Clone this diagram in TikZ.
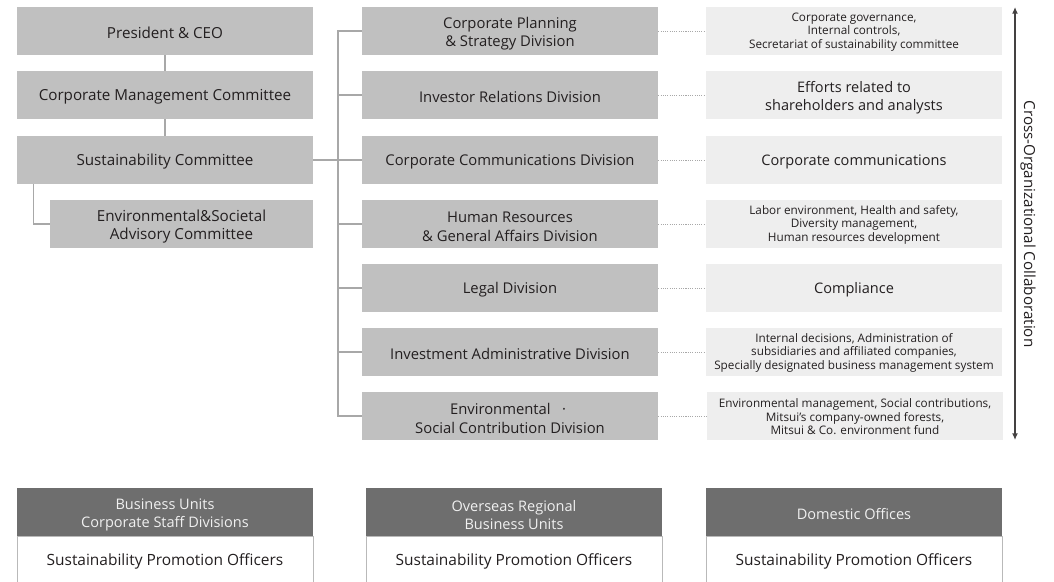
\documentclass[tikz,border=0pt]{standalone}
\usepackage{fontspec}
\setmainfont{Open Sans}
\usetikzlibrary{arrows.meta}
\definecolor{midbox}{HTML}{C0C0C0}
\definecolor{lightbox}{HTML}{EEEEEE}
\definecolor{darkhead}{HTML}{6E6E6E}
\definecolor{conn}{HTML}{A8A8A8}
\definecolor{txt}{HTML}{231F20}
\newcommand\dropA{\rule{0pt}{12.3pt}}
\newcommand\dropB{\rule{0pt}{8.1pt}}
\begin{document}
\begin{tikzpicture}[x=0.75pt,y=-0.75pt,
  oneline/.style={execute at begin node={\rule{0pt}{1.02em}}},
  lbox/.style={fill=midbox, minimum width=222pt, minimum height=36pt, inner sep=0pt, align=center, text=txt, font=\fontsize{11.4}{14}\selectfont},
  mbox/.style={fill=midbox, minimum width=222pt, minimum height=36pt, inner sep=0pt, align=center, text=txt, font=\fontsize{11.1}{14}\selectfont},
  rbox/.style={fill=lightbox, minimum width=222pt, minimum height=36pt, inner sep=0pt, align=center, text=txt, font=\fontsize{10.9}{14}\selectfont},
  rsmall/.style={rbox, font=\fontsize{8.8}{10.2}\selectfont},
  headbox/.style={fill=darkhead, minimum width=222pt, minimum height=36pt, inner sep=0pt, align=center, text=white!94!black, font=\fontsize{10.9}{13.9}\selectfont},
  bodybox/.style={oneline, draw=conn!80, line width=0.6pt, fill=white, minimum width=222pt, minimum height=34.5pt, inner sep=0pt, align=center, text=txt, font=\fontsize{11.6}{14}\selectfont},
  connline/.style={draw=conn, line width=0.9pt},
  dotline/.style={draw=conn, line width=0.6pt, dash pattern=on 0.8pt off 0.9pt},
]
\useasboundingbox (0,0) rectangle (1054,582);

% left column
\node[lbox, oneline] (pres) at (165,31) {President \& CEO};
\node[lbox, oneline] (cmc) at (165,95) {Corporate Management Committee};
\node[lbox, oneline] (sc) at (165,160) {Sustainability Committee};
\node[lbox, minimum width=197.25pt] (adv) at (181.5,224) {\dropA Environmental\&Societal\\Advisory Committee};

\draw[connline] (pres.south) -- (cmc.north);
\draw[connline] (cmc.south) -- (sc.north);
\draw[connline] (sc.south west) ++(17,0) |- (adv.west);

% middle column
\node[mbox] (d1) at (510,31) {\dropA Corporate Planning\\\& Strategy Division};
\node[mbox, oneline] (d2) at (510,95) {Investor Relations Division};
\node[mbox, oneline] (d3) at (510,160) {Corporate Communications Division};
\node[mbox] (d4) at (510,224) {\dropA Human Resources\\\& General Affairs Division};
\node[mbox, oneline] (d5) at (510,288) {Legal Division};
\node[mbox, oneline] (d6) at (510,352) {Investment Administrative Division};
\node[mbox] (d7) at (510,416) {\dropA Environmental \ \ ·\ \ \\Social Contribution Division};

\coordinate (bt) at (338,31);
\coordinate (bb) at (338,416);
\draw[connline] (d1.west) -- (bt) -- (bb) -- (d7.west);
\foreach \d in {d2,d3,d4,d5,d6}{\draw[connline] (\d.west) -- (\d.west -| bt);}
\draw[connline] (sc.east) -- (sc.east -| bt);

% right column
\node[rsmall] (r1) at (854,31) {\dropB Corporate governance,\\Internal controls,\\Secretariat of sustainability committee};
\node[rbox] (r2) at (854,95) {\dropA Efforts related to\\shareholders and analysts};
\node[rbox, oneline] (r3) at (854,160) {Corporate communications};
\node[rsmall] (r4) at (854,224) {\dropB Labor environment, Health and safety,\\Diversity management,\\Human resources development};
\node[rbox, oneline] (r5) at (854,288) {Compliance};
\node[rsmall] (r6) at (854,352) {\dropB Internal decisions, Administration of\\subsidiaries and affiliated companies,\\Specially designated business management system};
\node[rsmall] (r7) at (855,416) {\dropB Environmental management, Social contributions,\\Mitsui's company-owned forests,\\Mitsui \& Co. environment fund};

\foreach \i in {1,...,7}{\draw[dotline] (d\i.east) -- (r\i.west);}

% cross-organizational arrow
\coordinate (at) at (1015,7);
\coordinate (ab) at (1015,440);
\draw[line width=1.2pt, draw=txt!85, {Latex[length=5pt,width=4.5pt]}-{Latex[length=5pt,width=4.5pt]}] (at) -- (ab);
\node[rotate=-90, text=txt, font=\fontsize{11.4}{13}\selectfont] (lab) at (1028,224) {Cross-Organizational Collaboration};

% bottom boxes
\node[headbox] (h1) at (165,512) {\rule{0pt}{12.6pt}Business Units\\Corporate Staff Divisions};
\node[bodybox, anchor=north] (b1) at (h1.south) {Sustainability Promotion Officers};
\node[headbox] (h2) at (514,512) {\rule{0pt}{12.6pt}Overseas Regional\\Business Units};
\node[bodybox, anchor=north] (b2) at (h2.south) {Sustainability Promotion Officers};
\node[headbox, oneline] (h3) at (854,512) {Domestic Offices};
\node[bodybox, anchor=north] (b3) at (h3.south) {Sustainability Promotion Officers};
\end{tikzpicture}
\end{document}
